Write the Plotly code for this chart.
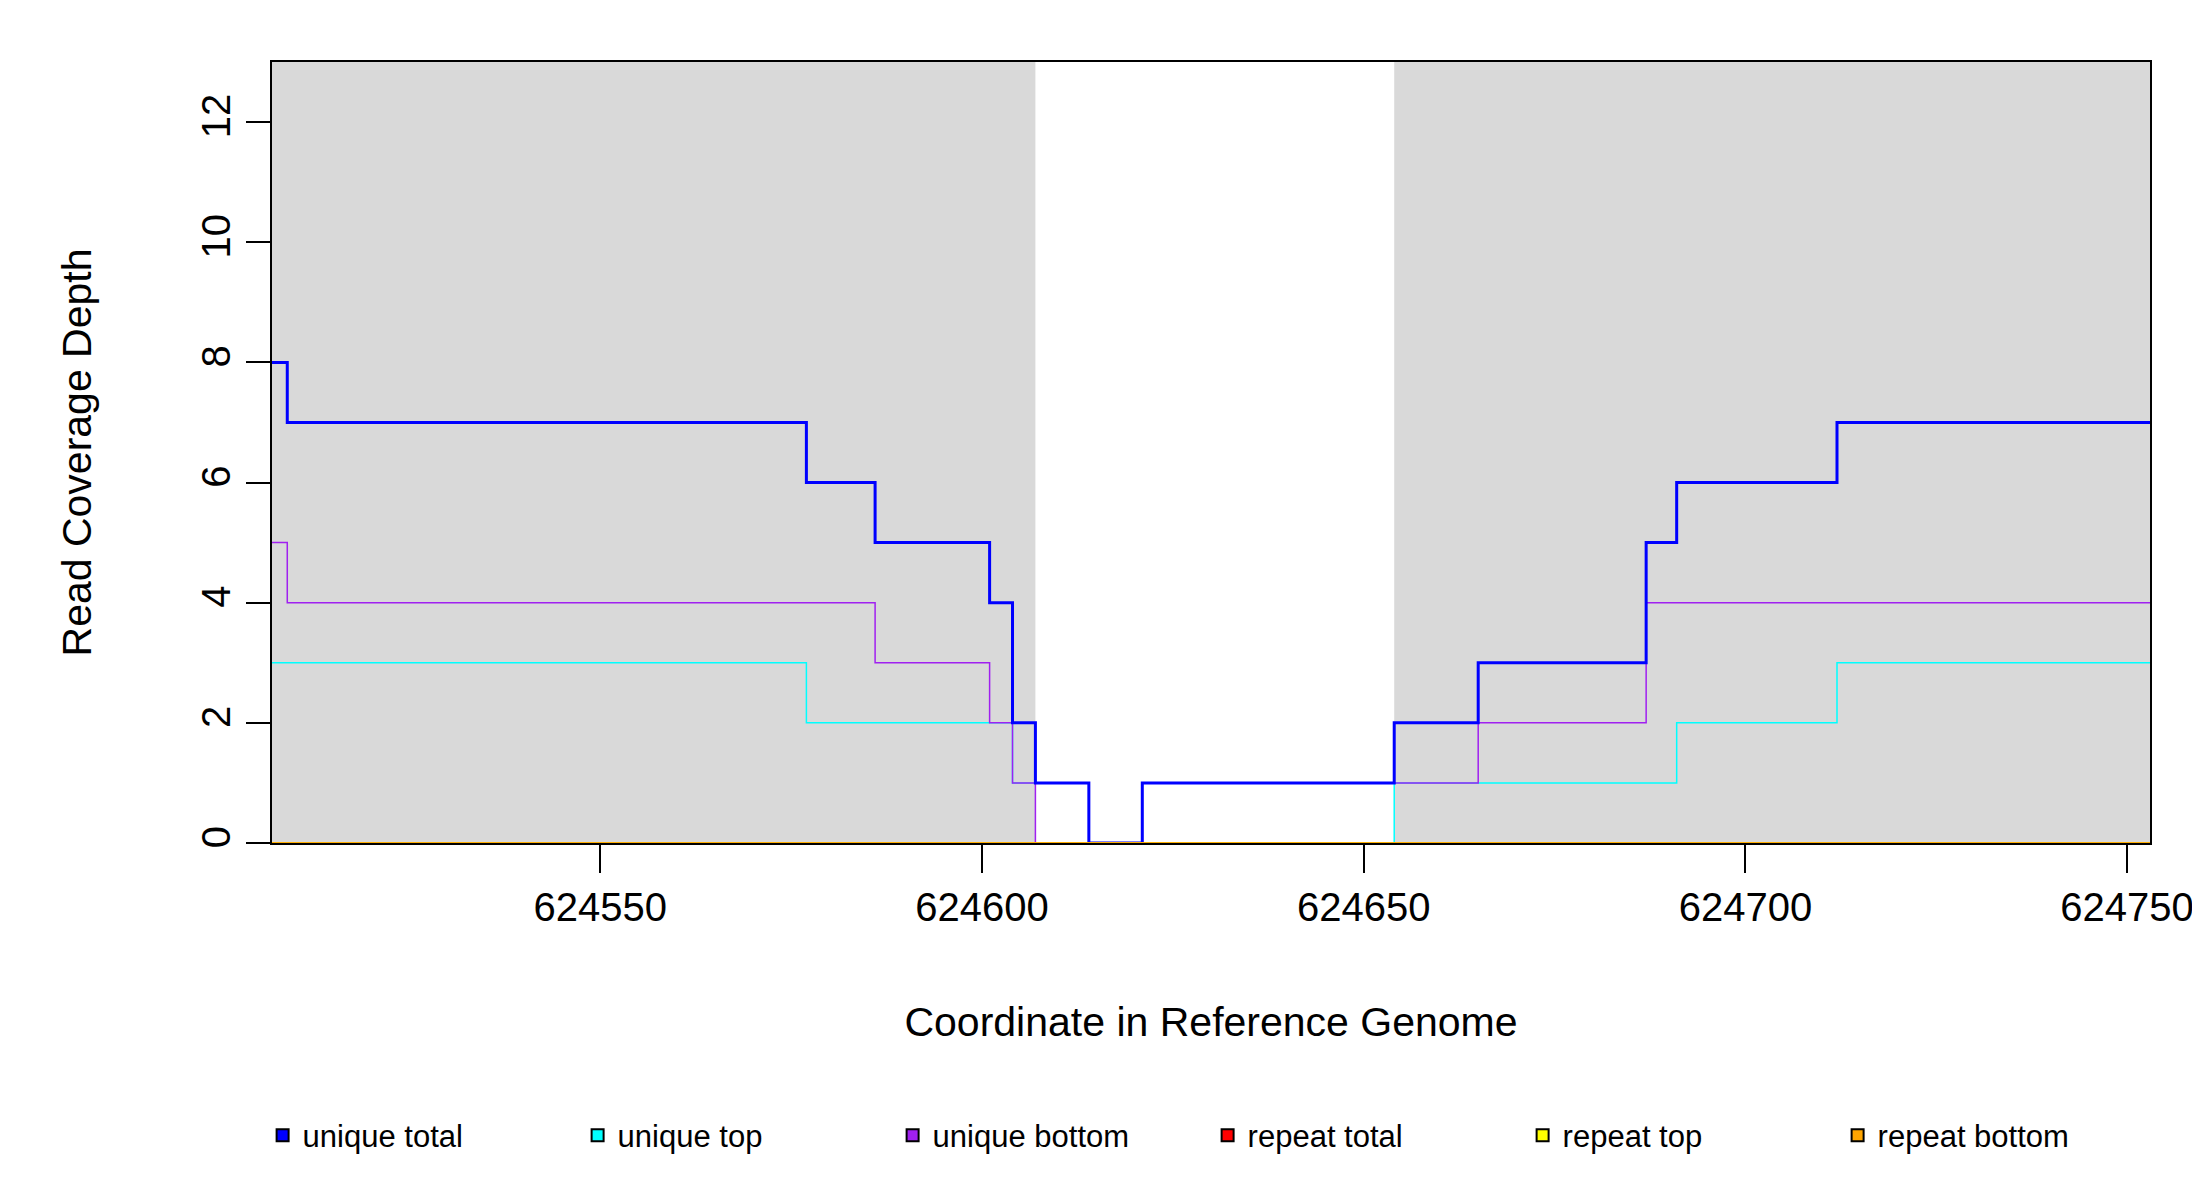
import plotly.graph_objects as go

x_edges = [624507, 624509, 624577, 624586, 624601, 624604, 624607, 624614, 624621,
           624654, 624665, 624687, 624691, 624712, 624753]
unique_total = [8, 7, 6, 5, 4, 2, 1, 0, 1, 2, 3, 5, 6, 7]
unique_top = [3, 3, 2, 2, 2, 1, 1, 0, 0, 1, 1, 1, 2, 3]
unique_bottom = [5, 4, 4, 3, 2, 1, 0, 0, 1, 1, 2, 4, 4, 4]
repeat_total = [0] * 14
repeat_top = [0] * 14
repeat_bottom = [0] * 14
shaded = [(624507, 624607), (624654, 624753)]

names = ["unique total", "unique top", "unique bottom", "repeat total", "repeat top", "repeat bottom"]
colors = ["#0000FF", "#00FFFF", "#A020F0", "#FF0000", "#FFFF00", "#FFA500"]
series = [unique_total, unique_top, unique_bottom, repeat_total, repeat_top, repeat_bottom]
widths = [3, 1.5, 1.5, 1.5, 1.5, 1.5]

fig = go.Figure()
for a, b in shaded:
    fig.add_vrect(x0=a, x1=b, fillcolor="#D9D9D9", line_width=0, layer="below")

order = [1, 2, 0, 3, 4, 5]
for i in order:
    ys = series[i] + [series[i][-1]]
    fig.add_trace(go.Scatter(x=x_edges, y=ys, mode="lines", line=dict(color=colors[i], width=widths[i], shape="hv"),
                             showlegend=False, hoverinfo="skip"))
for n, c in zip(names, colors):
    fig.add_trace(go.Scatter(x=[None], y=[None], mode="markers", name=n,
                             marker=dict(symbol="square", size=22, color=c, line=dict(color="black", width=1.5))))

fnt = "Liberation Sans, Arial, sans-serif"
fig.update_layout(
    width=2200, height=1200, paper_bgcolor="white", plot_bgcolor="white",
    margin=dict(l=264, r=58, t=54, b=365),
    font=dict(family=fnt, color="black"),
    xaxis=dict(range=[624507, 624753], tickvals=[624550, 624600, 624650, 624700, 624750],
               ticktext=["624550", "624600", "624650", "624700", "624750"],
               ticks="outside", ticklen=28, tickwidth=1.5, tickcolor="black",
               tickfont=dict(size=40), showgrid=False, zeroline=False,
               showline=True, linecolor="black", linewidth=1.5, mirror=True,
               title=dict(text="Coordinate in Reference Genome", font=dict(size=41), standoff=80)),
    yaxis=dict(range=[0, 13], tickvals=[0, 2, 4, 6, 8, 10, 12], tickangle=-90,
               ticks="outside", ticklen=24, tickwidth=1.5, tickcolor="black",
               tickfont=dict(size=40), showgrid=False, zeroline=False,
               showline=True, linecolor="black", linewidth=1.5, mirror=True,
               title=dict(text="Read Coverage Depth", font=dict(size=41), standoff=90)),
    legend=dict(orientation="h", x=-0.005, xanchor="left", y=-0.34, yanchor="top",
                entrywidth=270, entrywidthmode="pixels", font=dict(size=31),
                itemsizing="constant", bgcolor="rgba(0,0,0,0)"),
)
fig.write_html("out.html")
